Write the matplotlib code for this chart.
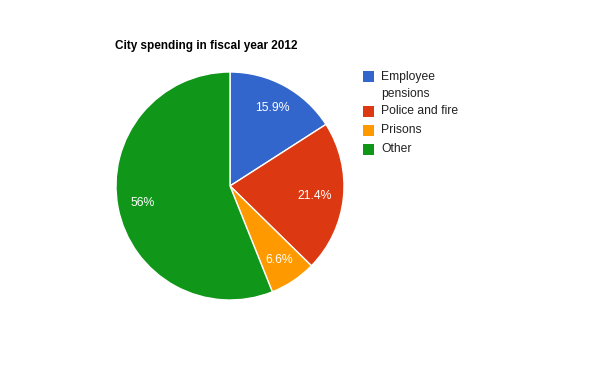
import matplotlib
matplotlib.use("Agg")
import matplotlib.pyplot as plt
from matplotlib.patches import Rectangle

plt.rcParams['font.family'] = ['Liberation Sans', 'DejaVu Sans']

title = "City spending in fiscal year 2012"
categories = ["Employee\npensions", "Police and fire", "Prisons", "Other"]
values = [15.9, 21.4, 6.6, 56.0]
pct_labels = ["15.9%", "21.4%", "6.6%", "56%"]
colors = ["#3366cc", "#dc3912", "#ff9900", "#109618"]

W, H = 600, 371
fig = plt.figure(figsize=(6, 3.71), dpi=100)
ax = fig.add_axes([0, 0, 1, 1])
ax.set_xlim(0, W)
ax.set_ylim(0, H)
ax.set_aspect('equal')
ax.axis('off')

wedges, texts = ax.pie(values, colors=colors, startangle=90, counterclock=False,
                       center=(230, H - 186), radius=114,
                       labels=pct_labels, labeldistance=0.78,
                       wedgeprops=dict(edgecolor='white', linewidth=1),
                       textprops=dict(color='white', fontsize=8.8))
for t in texts:
    t.set_ha('center'); t.set_va('center')
# Google-style placement pulls the wide label on the right slightly inward
x, y = texts[1].get_position()
texts[1].set_position((x - 4, y - 1))
ax.set_xlim(0, W)
ax.set_ylim(0, H)

ax.text(115, H - 46, title, fontsize=8.45, fontweight='bold', ha='left', va='center', color='black')

# legend
ys = [76, 111, 130, 149]
for lab, col, y in zip(categories, colors, ys):
    ax.add_patch(Rectangle((363, H - y - 5.5), 11, 11, facecolor=col, edgecolor='none'))
    if '\n' in lab:
        ax.text(381, H - y + 5, lab, fontsize=8.7, ha='left', va='top',
                color='#222222', linespacing=1.6)
    else:
        ax.text(381, H - y, lab, fontsize=8.7, ha='left', va='center', color='#222222')
fig.savefig("out.png", dpi=100, facecolor='white')
